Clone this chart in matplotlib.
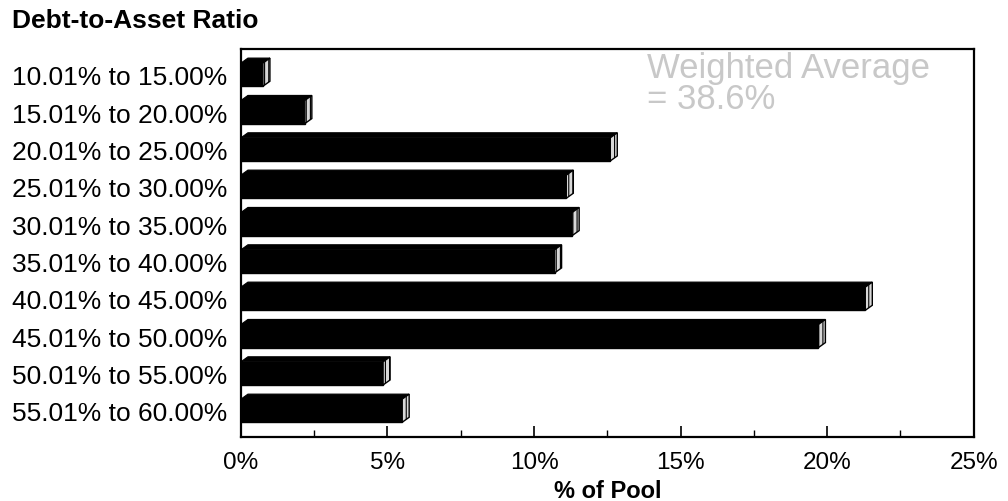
import numpy as np
import matplotlib.pyplot as plt
from matplotlib.patches import Polygon
from matplotlib.ticker import MultipleLocator, FuncFormatter

plt.rcParams['font.family'] = ['Liberation Sans', 'DejaVu Sans']
plt.rcParams['hatch.linewidth'] = 0.8

ranges = ['10.01% to 15.00%', '15.01% to 20.00%', '20.01% to 25.00%',
          '25.01% to 30.00%', '30.01% to 35.00%', '35.01% to 40.00%',
          '40.01% to 45.00%', '45.01% to 50.00%', '50.01% to 55.00%',
          '55.01% to 60.00%']
pool_pct = [0.75, 2.18, 12.6, 11.1, 11.3, 10.7, 21.3, 19.7, 4.85, 5.5]
title = 'Debt-to-Asset Ratio'
note = 'Weighted Average\n= 38.6%'

fig = plt.figure(figsize=(10.08, 5.02), dpi=100)
ax = fig.add_axes([0.239, 0.127, 0.727, 0.773])

y = np.arange(len(ranges))
h = 0.62
dx = 0.24     # depth in % units
dy = 0.135    # depth in category units

ax.barh(y, pool_pct, height=h, color='black', edgecolor='black', zorder=2)
for yi, v in zip(y, pool_pct):
    top = yi - h / 2
    bot = yi + h / 2
    # top face
    ax.add_patch(Polygon([(0, top), (dx, top - dy), (v + dx, top - dy), (v, top)],
                         closed=True, facecolor='black', edgecolor='black',
                         lw=0.8, zorder=2))
    # side face
    ax.add_patch(Polygon([(v, top), (v + dx, top - dy), (v + dx, bot - dy), (v, bot)],
                         closed=True, facecolor='#d8d8d8', edgecolor='black',
                         hatch='||||', lw=1.0, zorder=3))

ax.set_xlim(0, 25)
ax.set_ylim(9.71, -0.683)
ax.set_yticks(y)
ax.set_yticklabels(ranges, fontsize=19)
ax.tick_params(axis='y', length=0, pad=10)

ax.xaxis.set_major_locator(MultipleLocator(5))
ax.xaxis.set_minor_locator(MultipleLocator(2.5))
ax.xaxis.set_major_formatter(FuncFormatter(lambda v, p: f'{v:.0f}%'))
ax.tick_params(axis='x', which='major', direction='in', length=8, width=1.2,
               labelsize=17.5, pad=10)
ax.tick_params(axis='x', which='minor', direction='in', length=5, width=1.0)
ax.set_xlabel('% of Pool', fontsize=17, fontweight='bold', labelpad=4)

for s in ax.spines.values():
    s.set_linewidth(1.6)

ax.text(13.86, -0.64, note, fontsize=25, color='#c8c8c8', va='top', ha='left',
        linespacing=0.92)

fig.text(0.012, 0.958, title, fontsize=19, fontweight='bold', va='center', ha='left')

fig.savefig('out.png', dpi=100)
